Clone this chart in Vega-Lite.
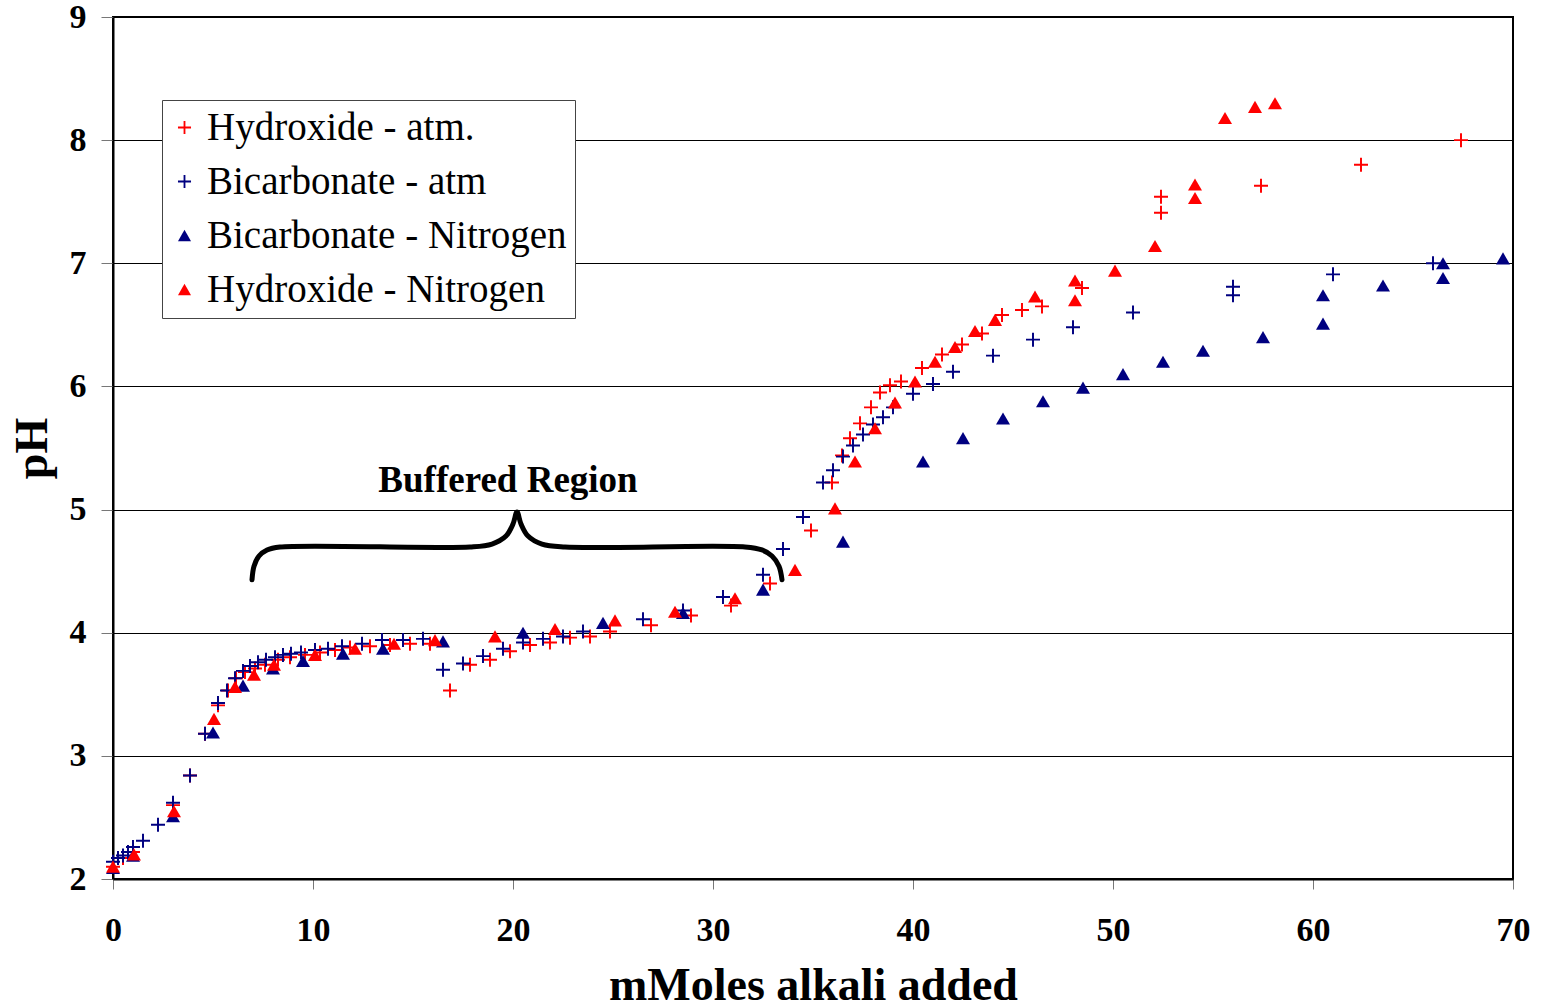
{
  "$schema": "https://vega.github.io/schema/vega-lite/v6.json",
  "width": 1400,
  "height": 862,
  "autosize": {"type": "none"},
  "padding": {"left": 113, "top": 17, "right": 28, "bottom": 128},
  "background": "white",
  "config": {
    "view": {"stroke": "#000", "strokeWidth": 2},
    "font": "Liberation Serif"
  },
  "datasets": {
    "pts": [
      {"series": "Hydroxide - atm.", "mmol": 0, "pH": 2.1},
      {"series": "Hydroxide - atm.", "mmol": 0.5, "pH": 2.17},
      {"series": "Hydroxide - atm.", "mmol": 1, "pH": 2.22},
      {"series": "Hydroxide - atm.", "mmol": 3, "pH": 2.6},
      {"series": "Hydroxide - atm.", "mmol": 3.85, "pH": 2.84},
      {"series": "Hydroxide - atm.", "mmol": 4.6, "pH": 3.18},
      {"series": "Hydroxide - atm.", "mmol": 5.25, "pH": 3.41},
      {"series": "Hydroxide - atm.", "mmol": 5.75, "pH": 3.53},
      {"series": "Hydroxide - atm.", "mmol": 6.15, "pH": 3.63},
      {"series": "Hydroxide - atm.", "mmol": 6.6, "pH": 3.68},
      {"series": "Hydroxide - atm.", "mmol": 7.1, "pH": 3.71},
      {"series": "Hydroxide - atm.", "mmol": 7.6, "pH": 3.74},
      {"series": "Hydroxide - atm.", "mmol": 8.25, "pH": 3.78},
      {"series": "Hydroxide - atm.", "mmol": 8.85, "pH": 3.8},
      {"series": "Hydroxide - atm.", "mmol": 9.6, "pH": 3.82},
      {"series": "Hydroxide - atm.", "mmol": 10.35, "pH": 3.84},
      {"series": "Hydroxide - atm.", "mmol": 11.1, "pH": 3.86},
      {"series": "Hydroxide - atm.", "mmol": 11.85, "pH": 3.88},
      {"series": "Hydroxide - atm.", "mmol": 12.85, "pH": 3.89},
      {"series": "Hydroxide - atm.", "mmol": 13.85, "pH": 3.9},
      {"series": "Hydroxide - atm.", "mmol": 14.85, "pH": 3.91},
      {"series": "Hydroxide - atm.", "mmol": 15.85, "pH": 3.91},
      {"series": "Hydroxide - atm.", "mmol": 16.85, "pH": 3.53},
      {"series": "Hydroxide - atm.", "mmol": 17.85, "pH": 3.74},
      {"series": "Hydroxide - atm.", "mmol": 18.85, "pH": 3.78},
      {"series": "Hydroxide - atm.", "mmol": 19.85, "pH": 3.85},
      {"series": "Hydroxide - atm.", "mmol": 20.85, "pH": 3.9},
      {"series": "Hydroxide - atm.", "mmol": 21.85, "pH": 3.92},
      {"series": "Hydroxide - atm.", "mmol": 22.85, "pH": 3.96},
      {"series": "Hydroxide - atm.", "mmol": 23.85, "pH": 3.97},
      {"series": "Hydroxide - atm.", "mmol": 24.85, "pH": 4.01},
      {"series": "Hydroxide - atm.", "mmol": 26.9, "pH": 4.06},
      {"series": "Hydroxide - atm.", "mmol": 28.9, "pH": 4.14},
      {"series": "Hydroxide - atm.", "mmol": 30.9, "pH": 4.22},
      {"series": "Hydroxide - atm.", "mmol": 32.85, "pH": 4.4},
      {"series": "Hydroxide - atm.", "mmol": 34.9, "pH": 4.83},
      {"series": "Hydroxide - atm.", "mmol": 35.95, "pH": 5.22},
      {"series": "Hydroxide - atm.", "mmol": 36.45, "pH": 5.44},
      {"series": "Hydroxide - atm.", "mmol": 36.85, "pH": 5.58},
      {"series": "Hydroxide - atm.", "mmol": 37.35, "pH": 5.7},
      {"series": "Hydroxide - atm.", "mmol": 37.9, "pH": 5.83},
      {"series": "Hydroxide - atm.", "mmol": 38.35, "pH": 5.95},
      {"series": "Hydroxide - atm.", "mmol": 38.85, "pH": 6.01},
      {"series": "Hydroxide - atm.", "mmol": 39.4, "pH": 6.04},
      {"series": "Hydroxide - atm.", "mmol": 40.45, "pH": 6.15},
      {"series": "Hydroxide - atm.", "mmol": 41.45, "pH": 6.26},
      {"series": "Hydroxide - atm.", "mmol": 42.45, "pH": 6.34},
      {"series": "Hydroxide - atm.", "mmol": 43.45, "pH": 6.43},
      {"series": "Hydroxide - atm.", "mmol": 44.45, "pH": 6.58},
      {"series": "Hydroxide - atm.", "mmol": 45.45, "pH": 6.62},
      {"series": "Hydroxide - atm.", "mmol": 46.45, "pH": 6.65},
      {"series": "Hydroxide - atm.", "mmol": 48.45, "pH": 6.8},
      {"series": "Hydroxide - atm.", "mmol": 52.4, "pH": 7.41},
      {"series": "Hydroxide - atm.", "mmol": 52.4, "pH": 7.54},
      {"series": "Hydroxide - atm.", "mmol": 57.4, "pH": 7.63},
      {"series": "Hydroxide - atm.", "mmol": 62.4, "pH": 7.8},
      {"series": "Hydroxide - atm.", "mmol": 67.4, "pH": 8.0},

      {"series": "Bicarbonate - atm", "mmol": 0, "pH": 2.14},
      {"series": "Bicarbonate - atm", "mmol": 0.25, "pH": 2.17},
      {"series": "Bicarbonate - atm", "mmol": 0.5, "pH": 2.19},
      {"series": "Bicarbonate - atm", "mmol": 0.75, "pH": 2.22},
      {"series": "Bicarbonate - atm", "mmol": 1, "pH": 2.26},
      {"series": "Bicarbonate - atm", "mmol": 1.5, "pH": 2.31},
      {"series": "Bicarbonate - atm", "mmol": 2.25, "pH": 2.44},
      {"series": "Bicarbonate - atm", "mmol": 3, "pH": 2.62},
      {"series": "Bicarbonate - atm", "mmol": 3.85, "pH": 2.84},
      {"series": "Bicarbonate - atm", "mmol": 4.6, "pH": 3.18},
      {"series": "Bicarbonate - atm", "mmol": 5.25, "pH": 3.43},
      {"series": "Bicarbonate - atm", "mmol": 5.7, "pH": 3.53},
      {"series": "Bicarbonate - atm", "mmol": 6.1, "pH": 3.63},
      {"series": "Bicarbonate - atm", "mmol": 6.5, "pH": 3.69},
      {"series": "Bicarbonate - atm", "mmol": 6.85, "pH": 3.73},
      {"series": "Bicarbonate - atm", "mmol": 7.25, "pH": 3.76},
      {"series": "Bicarbonate - atm", "mmol": 7.65, "pH": 3.78},
      {"series": "Bicarbonate - atm", "mmol": 8.1, "pH": 3.8},
      {"series": "Bicarbonate - atm", "mmol": 8.5, "pH": 3.82},
      {"series": "Bicarbonate - atm", "mmol": 8.9, "pH": 3.83},
      {"series": "Bicarbonate - atm", "mmol": 9.4, "pH": 3.84},
      {"series": "Bicarbonate - atm", "mmol": 10.1, "pH": 3.86},
      {"series": "Bicarbonate - atm", "mmol": 10.75, "pH": 3.87},
      {"series": "Bicarbonate - atm", "mmol": 11.45, "pH": 3.89},
      {"series": "Bicarbonate - atm", "mmol": 12.45, "pH": 3.91},
      {"series": "Bicarbonate - atm", "mmol": 13.45, "pH": 3.94},
      {"series": "Bicarbonate - atm", "mmol": 14.5, "pH": 3.94},
      {"series": "Bicarbonate - atm", "mmol": 15.5, "pH": 3.95},
      {"series": "Bicarbonate - atm", "mmol": 16.5, "pH": 3.7},
      {"series": "Bicarbonate - atm", "mmol": 17.5, "pH": 3.75},
      {"series": "Bicarbonate - atm", "mmol": 18.5, "pH": 3.81},
      {"series": "Bicarbonate - atm", "mmol": 19.5, "pH": 3.87},
      {"series": "Bicarbonate - atm", "mmol": 20.5, "pH": 3.92},
      {"series": "Bicarbonate - atm", "mmol": 21.5, "pH": 3.95},
      {"series": "Bicarbonate - atm", "mmol": 22.5, "pH": 3.97},
      {"series": "Bicarbonate - atm", "mmol": 23.5, "pH": 4.01},
      {"series": "Bicarbonate - atm", "mmol": 26.5, "pH": 4.11},
      {"series": "Bicarbonate - atm", "mmol": 28.5, "pH": 4.18},
      {"series": "Bicarbonate - atm", "mmol": 30.5, "pH": 4.29},
      {"series": "Bicarbonate - atm", "mmol": 32.5, "pH": 4.47},
      {"series": "Bicarbonate - atm", "mmol": 33.5, "pH": 4.68},
      {"series": "Bicarbonate - atm", "mmol": 34.5, "pH": 4.94},
      {"series": "Bicarbonate - atm", "mmol": 35.5, "pH": 5.22},
      {"series": "Bicarbonate - atm", "mmol": 36, "pH": 5.32},
      {"series": "Bicarbonate - atm", "mmol": 36.5, "pH": 5.43},
      {"series": "Bicarbonate - atm", "mmol": 37, "pH": 5.52},
      {"series": "Bicarbonate - atm", "mmol": 37.5, "pH": 5.61},
      {"series": "Bicarbonate - atm", "mmol": 38, "pH": 5.69},
      {"series": "Bicarbonate - atm", "mmol": 38.5, "pH": 5.75},
      {"series": "Bicarbonate - atm", "mmol": 39, "pH": 5.83},
      {"series": "Bicarbonate - atm", "mmol": 40, "pH": 5.94},
      {"series": "Bicarbonate - atm", "mmol": 41, "pH": 6.02},
      {"series": "Bicarbonate - atm", "mmol": 42, "pH": 6.12},
      {"series": "Bicarbonate - atm", "mmol": 44, "pH": 6.25},
      {"series": "Bicarbonate - atm", "mmol": 46, "pH": 6.38},
      {"series": "Bicarbonate - atm", "mmol": 48, "pH": 6.48},
      {"series": "Bicarbonate - atm", "mmol": 51, "pH": 6.6},
      {"series": "Bicarbonate - atm", "mmol": 56, "pH": 6.81},
      {"series": "Bicarbonate - atm", "mmol": 56, "pH": 6.74},
      {"series": "Bicarbonate - atm", "mmol": 61, "pH": 6.91},
      {"series": "Bicarbonate - atm", "mmol": 66, "pH": 7.0},

      {"series": "Bicarbonate - Nitrogen", "mmol": 0, "pH": 2.09},
      {"series": "Bicarbonate - Nitrogen", "mmol": 1, "pH": 2.19},
      {"series": "Bicarbonate - Nitrogen", "mmol": 3, "pH": 2.51},
      {"series": "Bicarbonate - Nitrogen", "mmol": 5, "pH": 3.19},
      {"series": "Bicarbonate - Nitrogen", "mmol": 6.5, "pH": 3.57},
      {"series": "Bicarbonate - Nitrogen", "mmol": 8, "pH": 3.71},
      {"series": "Bicarbonate - Nitrogen", "mmol": 9.5, "pH": 3.77},
      {"series": "Bicarbonate - Nitrogen", "mmol": 11.5, "pH": 3.83},
      {"series": "Bicarbonate - Nitrogen", "mmol": 13.5, "pH": 3.87},
      {"series": "Bicarbonate - Nitrogen", "mmol": 16.5, "pH": 3.93},
      {"series": "Bicarbonate - Nitrogen", "mmol": 20.5, "pH": 4.0},
      {"series": "Bicarbonate - Nitrogen", "mmol": 24.5, "pH": 4.08},
      {"series": "Bicarbonate - Nitrogen", "mmol": 28.5, "pH": 4.16},
      {"series": "Bicarbonate - Nitrogen", "mmol": 32.5, "pH": 4.35},
      {"series": "Bicarbonate - Nitrogen", "mmol": 36.5, "pH": 4.74},
      {"series": "Bicarbonate - Nitrogen", "mmol": 40.5, "pH": 5.39},
      {"series": "Bicarbonate - Nitrogen", "mmol": 42.5, "pH": 5.58},
      {"series": "Bicarbonate - Nitrogen", "mmol": 44.5, "pH": 5.74},
      {"series": "Bicarbonate - Nitrogen", "mmol": 46.5, "pH": 5.88},
      {"series": "Bicarbonate - Nitrogen", "mmol": 48.5, "pH": 5.99},
      {"series": "Bicarbonate - Nitrogen", "mmol": 50.5, "pH": 6.1},
      {"series": "Bicarbonate - Nitrogen", "mmol": 52.5, "pH": 6.2},
      {"series": "Bicarbonate - Nitrogen", "mmol": 54.5, "pH": 6.29},
      {"series": "Bicarbonate - Nitrogen", "mmol": 57.5, "pH": 6.4},
      {"series": "Bicarbonate - Nitrogen", "mmol": 60.5, "pH": 6.51},
      {"series": "Bicarbonate - Nitrogen", "mmol": 60.5, "pH": 6.74},
      {"series": "Bicarbonate - Nitrogen", "mmol": 63.5, "pH": 6.82},
      {"series": "Bicarbonate - Nitrogen", "mmol": 66.5, "pH": 7.0},
      {"series": "Bicarbonate - Nitrogen", "mmol": 66.5, "pH": 6.88},
      {"series": "Bicarbonate - Nitrogen", "mmol": 69.5, "pH": 7.04},

      {"series": "Hydroxide - Nitrogen", "mmol": 0, "pH": 2.1},
      {"series": "Hydroxide - Nitrogen", "mmol": 1.05, "pH": 2.2},
      {"series": "Hydroxide - Nitrogen", "mmol": 3.05, "pH": 2.55},
      {"series": "Hydroxide - Nitrogen", "mmol": 5.05, "pH": 3.3},
      {"series": "Hydroxide - Nitrogen", "mmol": 6.1, "pH": 3.56},
      {"series": "Hydroxide - Nitrogen", "mmol": 7.05, "pH": 3.66},
      {"series": "Hydroxide - Nitrogen", "mmol": 8.05, "pH": 3.74},
      {"series": "Hydroxide - Nitrogen", "mmol": 10.1, "pH": 3.82},
      {"series": "Hydroxide - Nitrogen", "mmol": 12.1, "pH": 3.87},
      {"series": "Hydroxide - Nitrogen", "mmol": 14.05, "pH": 3.91},
      {"series": "Hydroxide - Nitrogen", "mmol": 16.1, "pH": 3.94},
      {"series": "Hydroxide - Nitrogen", "mmol": 19.1, "pH": 3.97},
      {"series": "Hydroxide - Nitrogen", "mmol": 22.1, "pH": 4.03},
      {"series": "Hydroxide - Nitrogen", "mmol": 25.1, "pH": 4.1},
      {"series": "Hydroxide - Nitrogen", "mmol": 28.1, "pH": 4.17},
      {"series": "Hydroxide - Nitrogen", "mmol": 31.1, "pH": 4.28},
      {"series": "Hydroxide - Nitrogen", "mmol": 34.1, "pH": 4.51},
      {"series": "Hydroxide - Nitrogen", "mmol": 36.1, "pH": 5.01},
      {"series": "Hydroxide - Nitrogen", "mmol": 37.1, "pH": 5.39},
      {"series": "Hydroxide - Nitrogen", "mmol": 38.1, "pH": 5.66},
      {"series": "Hydroxide - Nitrogen", "mmol": 39.1, "pH": 5.87},
      {"series": "Hydroxide - Nitrogen", "mmol": 40.1, "pH": 6.04},
      {"series": "Hydroxide - Nitrogen", "mmol": 41.1, "pH": 6.2},
      {"series": "Hydroxide - Nitrogen", "mmol": 42.1, "pH": 6.32},
      {"series": "Hydroxide - Nitrogen", "mmol": 43.1, "pH": 6.45},
      {"series": "Hydroxide - Nitrogen", "mmol": 44.1, "pH": 6.54},
      {"series": "Hydroxide - Nitrogen", "mmol": 46.1, "pH": 6.73},
      {"series": "Hydroxide - Nitrogen", "mmol": 48.1, "pH": 6.86},
      {"series": "Hydroxide - Nitrogen", "mmol": 48.1, "pH": 6.7},
      {"series": "Hydroxide - Nitrogen", "mmol": 50.1, "pH": 6.94},
      {"series": "Hydroxide - Nitrogen", "mmol": 52.1, "pH": 7.14},
      {"series": "Hydroxide - Nitrogen", "mmol": 54.1, "pH": 7.64},
      {"series": "Hydroxide - Nitrogen", "mmol": 54.1, "pH": 7.53},
      {"series": "Hydroxide - Nitrogen", "mmol": 55.6, "pH": 8.18},
      {"series": "Hydroxide - Nitrogen", "mmol": 57.1, "pH": 8.27},
      {"series": "Hydroxide - Nitrogen", "mmol": 58.1, "pH": 8.3}
    ],
    "brace": [
      {"i": 1, "mmol": 6.95, "pH": 4.43},
      {"i": 2, "mmol": 7.05, "pH": 4.54},
      {"i": 3, "mmol": 7.3, "pH": 4.623},
      {"i": 4, "mmol": 7.7, "pH": 4.672},
      {"i": 5, "mmol": 8.35, "pH": 4.696},
      {"i": 6, "mmol": 17.85, "pH": 4.696},
      {"i": 7, "mmol": 18.95, "pH": 4.72},
      {"i": 8, "mmol": 19.65, "pH": 4.785},
      {"i": 9, "mmol": 20.0, "pH": 4.883},
      {"i": 10, "mmol": 20.2, "pH": 4.98},
      {"i": 11, "mmol": 20.4, "pH": 4.883},
      {"i": 12, "mmol": 20.75, "pH": 4.785},
      {"i": 13, "mmol": 21.45, "pH": 4.72},
      {"i": 14, "mmol": 22.6, "pH": 4.696},
      {"i": 15, "mmol": 31.6, "pH": 4.696},
      {"i": 16, "mmol": 32.45, "pH": 4.672},
      {"i": 17, "mmol": 32.95, "pH": 4.623},
      {"i": 18, "mmol": 33.3, "pH": 4.54},
      {"i": 19, "mmol": 33.45, "pH": 4.43}
    ],
    "notes": [
      {"mmol": 19.75, "pH": 5.14, "label": "Buffered Region"}
    ]
  },
  "encoding": {
    "x": {
      "field": "mmol", "type": "quantitative",
      "scale": {"domain": [0, 70], "nice": false, "zero": false},
      "axis": {
        "title": "mMoles alkali added",
        "values": [0, 10, 20, 30, 40, 50, 60, 70],
        "grid": false,
        "domainColor": "#000", "domainWidth": 2,
        "tickColor": "#777", "tickSize": 10, "tickWidth": 1,
        "labelFont": "Liberation Serif", "labelFontSize": 34, "labelFontWeight": "bold", "labelColor": "#000",
        "labelPadding": 24, "labelFlush": false, "labelOverlap": false,
        "titleFont": "Liberation Serif", "titleFontSize": 46, "titleFontWeight": "bold", "titleColor": "#000",
        "titleX": 700, "titleY": 120, "titleBaseline": "alphabetic", "titleAlign": "center"
      }
    },
    "y": {
      "field": "pH", "type": "quantitative",
      "scale": {"domain": [2, 9], "nice": false, "zero": false},
      "axis": {
        "title": "pH",
        "values": [2, 3, 4, 5, 6, 7, 8, 9],
        "grid": true, "gridColor": "#000", "gridWidth": 1,
        "domainColor": "#000", "domainWidth": 2,
        "tickColor": "#777", "tickSize": 12, "tickWidth": 1,
        "labelFont": "Liberation Serif", "labelFontSize": 34, "labelFontWeight": "bold", "labelColor": "#000",
        "labelPadding": 15, "labelFlush": false, "labelOverlap": false,
        "titleFont": "Liberation Serif", "titleFontSize": 46, "titleFontWeight": "bold", "titleColor": "#000",
        "titleX": -67, "titleY": 431, "titleAngle": -90, "titleBaseline": "alphabetic", "titleAlign": "center"
      }
    }
  },
  "layer": [
    {
      "data": {"name": "pts"},
      "mark": {"type": "point", "filled": true, "opacity": 1, "size": 196},
      "encoding": {
        "color": {
          "field": "series", "type": "nominal",
          "scale": {
            "domain": ["Hydroxide - atm.", "Bicarbonate - atm", "Bicarbonate - Nitrogen", "Hydroxide - Nitrogen"],
            "range": ["#ff0000", "#000080", "#000080", "#ff0000"]
          },
          "legend": {
            "title": null,
            "orient": "none", "legendX": 49, "legendY": 83,
            "direction": "vertical",
            "fillColor": "white", "strokeColor": "#444",
            "padding": 8, "rowPadding": 14,
            "labelFont": "Liberation Serif", "labelFontSize": 39, "labelColor": "#000",
            "labelOffset": 3, "symbolOffset": -5, "symbolSize": 170,
            "labelLimit": 1000
          }
        },
        "shape": {
          "field": "series", "type": "nominal",
          "scale": {
            "domain": ["Hydroxide - atm.", "Bicarbonate - atm", "Bicarbonate - Nitrogen", "Hydroxide - Nitrogen"],
            "range": [
              "M-1,-0.14H-0.14V-1H0.14V-0.14H1V0.14H0.14V1H-0.14V0.14H-1Z",
              "M-1,-0.14H-0.14V-1H0.14V-0.14H1V0.14H0.14V1H-0.14V0.14H-1Z",
              "triangle-up",
              "triangle-up"
            ]
          },
          "legend": {
            "title": null,
            "orient": "none", "legendX": 49, "legendY": 83,
            "direction": "vertical",
            "fillColor": "white", "strokeColor": "#444",
            "padding": 8, "rowPadding": 14,
            "labelFont": "Liberation Serif", "labelFontSize": 39, "labelColor": "#000",
            "labelOffset": 3, "symbolOffset": -5, "symbolSize": 170,
            "labelLimit": 1000
          }
        }
      }
    },
    {
      "data": {"name": "brace"},
      "mark": {"type": "line", "color": "#000", "strokeWidth": 5, "strokeCap": "round", "strokeJoin": "round", "interpolate": "catmull-rom"},
      "encoding": {
        "order": {"field": "i", "type": "quantitative"}
      }
    },
    {
      "data": {"name": "notes"},
      "mark": {"type": "text", "font": "Liberation Serif", "fontSize": 37, "fontWeight": "bold", "color": "#000", "align": "center", "baseline": "alphabetic"},
      "encoding": {
        "text": {"field": "label", "type": "nominal"}
      }
    }
  ]
}
